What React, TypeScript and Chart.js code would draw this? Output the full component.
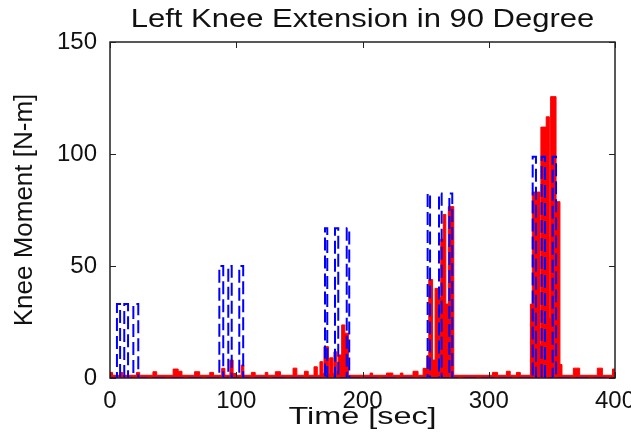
import React, { useEffect, useRef } from "react";
import { Chart, registerables } from "chart.js";

Chart.register(...registerables);

const TITLE = "Left Knee Extension in 90 Degree";
const X_LABEL = "Time [sec]";
const Y_LABEL = "Knee Moment [N-m]";
const X_TICKS = [0, 100, 200, 300, 400];
const Y_TICKS = [0, 50, 100, 150];

// Target moment (blue dashed): change points, value held until the next time
const targetTime = [0, 5.5, 8, 11.3, 14.3, 18.5, 22.4, 86.6, 89.7, 93.7, 96.4, 102.4, 105.5, 170.3, 172.1, 178.2, 180.8, 187.5, 189.5, 251.6, 253.5, 260.6, 262.7, 268.8, 271.1, 334.8, 337.4, 341.9, 344.6, 350.6, 353.3, 400];
const targetMoment = [0, 33, 0, 33, 0, 33, 0, 50, 0, 50, 0, 50, 0, 66.8, 0, 66.8, 0, 66.8, 0, 82.4, 0, 82.4, 0, 82.4, 0, 98.8, 0, 98.8, 0, 98.8, 0, 0];

// Measured moment (red): change points, value held until the next time
const measuredTime = [0, 2, 8, 10, 21, 23.5, 34, 37, 50, 54, 57, 67, 71, 79, 82, 88.5, 91, 95, 97.5, 100, 104, 106, 112, 115, 123, 125, 131, 135, 145, 148, 154, 157, 161.6, 164.2, 166.3, 168.5, 169.5, 173, 174, 176.6, 177.4, 179.6, 180.8, 183.5, 186, 188.8, 206, 208, 219, 224, 230, 232, 240, 244, 248, 251, 252.5, 255.5, 257.5, 260, 262, 264, 266, 268, 272.3, 303, 307, 314, 317, 322, 325, 333, 334.5, 340.6, 341.3, 345.5, 348, 349, 353.3, 356.4, 358, 367, 372, 386, 390, 398, 400];
const measuredMoment = [2.5, 1.2, 2.5, 1.2, 2.5, 1.2, 2.8, 1.2, 4, 3, 1.2, 2.8, 1.2, 2.5, 1.2, 4.3, 1.2, 8, 2, 1.2, 5.8, 1.2, 2.5, 1.2, 2.5, 1.2, 2.8, 1.2, 4.4, 1.2, 3, 1.2, 5, 1.2, 7.3, 2, 14, 2, 9, 2, 11.7, 3, 10.3, 23.7, 20, 1.2, 2.2, 1.2, 2.2, 1.2, 2.2, 1.2, 3, 1.2, 4.3, 10, 44, 8, 40, 36, 62, 73, 33, 76.5, 1.2, 2.5, 1.2, 3, 1.2, 2.5, 1.2, 33, 83, 15, 112, 116.6, 27, 125.6, 78.7, 6, 1.2, 4.4, 1.2, 4.4, 1.2, 4, 4];

const FONT = "'Liberation Sans', Arial, Helvetica, sans-serif";
const TEXT_COLOR = "#111111";

function stretchedText(ctx: any, text: string, cx: number, cy: number, size: number, sx: number) {
  ctx.save();
  ctx.fillStyle = TEXT_COLOR;
  ctx.font = `${size}px ${FONT}`;
  ctx.textAlign = "center";
  ctx.textBaseline = "middle";
  ctx.translate(cx, cy);
  ctx.scale(sx, 1);
  ctx.fillText(text, 0, 0);
  ctx.restore();
}

const matlabPlugin = {
  id: "matlabBox",
  afterDatasetsDraw(chart: any) {
    const { ctx, chartArea: a, scales } = chart;
    ctx.save();
    ctx.strokeStyle = "#222222";
    ctx.lineWidth = 1.5;
    ctx.strokeRect(a.left, a.top, a.right - a.left, a.bottom - a.top);
    ctx.lineWidth = 1;
    ctx.beginPath();
    X_TICKS.forEach((v) => {
      const px = Math.round(scales.x.getPixelForValue(v)) + 0.5;
      ctx.moveTo(px, a.bottom);
      ctx.lineTo(px, a.bottom - 6);
      ctx.moveTo(px, a.top);
      ctx.lineTo(px, a.top + 6);
    });
    Y_TICKS.forEach((v) => {
      const py = Math.round(scales.y.getPixelForValue(v)) + 0.5;
      ctx.moveTo(a.left, py);
      ctx.lineTo(a.left + 6, py);
      ctx.moveTo(a.right, py);
      ctx.lineTo(a.right - 6, py);
    });
    ctx.stroke();
    ctx.restore();
  },
  afterDraw(chart: any) {
    const { ctx, chartArea: a } = chart;
    const cx = (a.left + a.right) / 2;
    stretchedText(ctx, TITLE, cx, 20, 25, 1.24);
    stretchedText(ctx, X_LABEL, cx, 417, 24, 1.35);
  },
};

export default function App() {
  const ref = useRef<HTMLCanvasElement | null>(null);

  useEffect(() => {
    document.body.style.margin = "0";
    const canvas = ref.current;
    if (!canvas) return;
    const target = targetTime.map((t, i) => ({ x: t, y: targetMoment[i] }));
    const measured = measuredTime.map((t, i) => ({ x: t, y: measuredMoment[i] }));
    const chart = new Chart(canvas, {
      type: "line",
      data: {
        datasets: [
          {
            label: "Target",
            data: target,
            borderColor: "#0000ff",
            borderWidth: 2,
            borderDash: [13, 5],
            stepped: "before",
            pointRadius: 0,
            fill: false,
            order: 0,
          },
          {
            label: "Measured",
            data: measured,
            borderColor: "#ff0000",
            backgroundColor: "#ff0000",
            borderWidth: 1,
            stepped: "before",
            pointRadius: 0,
            fill: "origin",
            order: 1,
          },
        ],
      },
      options: {
        responsive: false,
        devicePixelRatio: 1,
        animation: false,
        events: [],
        layout: { padding: { top: 42, right: 16, bottom: 0, left: 0 } },
        plugins: {
          legend: { display: false },
          tooltip: { enabled: false },
          title: { display: false },
        },
        scales: {
          x: {
            type: "linear",
            min: 0,
            max: 400,
            afterBuildTicks: (s: any) => {
              s.ticks = X_TICKS.map((v) => ({ value: v }));
            },
            ticks: {
              font: { size: 24, family: FONT },
              color: TEXT_COLOR,
              padding: 1,
              maxRotation: 0,
              autoSkip: false,
            },
            grid: { display: false },
            border: { display: false },
            title: { display: false, text: X_LABEL },
            afterFit: (s: any) => {
              s.height = 59;
              s.paddingLeft = 0;
              s.paddingRight = 0;
            },
          },
          y: {
            type: "linear",
            min: 0,
            max: 150,
            afterBuildTicks: (s: any) => {
              s.ticks = Y_TICKS.map((v) => ({ value: v }));
            },
            ticks: {
              font: { size: 24, family: FONT },
              color: TEXT_COLOR,
              padding: 5,
              autoSkip: false,
            },
            grid: { display: false },
            border: { display: false },
            title: {
              display: true,
              text: Y_LABEL,
              font: { size: 26, family: FONT },
              color: TEXT_COLOR,
              padding: { top: 9, bottom: 0 },
            },
            afterFit: (s: any) => {
              s.width = 110;
              s.paddingTop = 0;
              s.paddingBottom = 0;
            },
          },
        },
      },
      plugins: [matlabPlugin],
    });
    return () => chart.destroy();
  }, []);

  return (
    <div style={{ position: "absolute", left: 0, top: 0, width: 631, height: 437, background: "#ffffff" }}>
      <canvas ref={ref} width={631} height={437} />
    </div>
  );
}
